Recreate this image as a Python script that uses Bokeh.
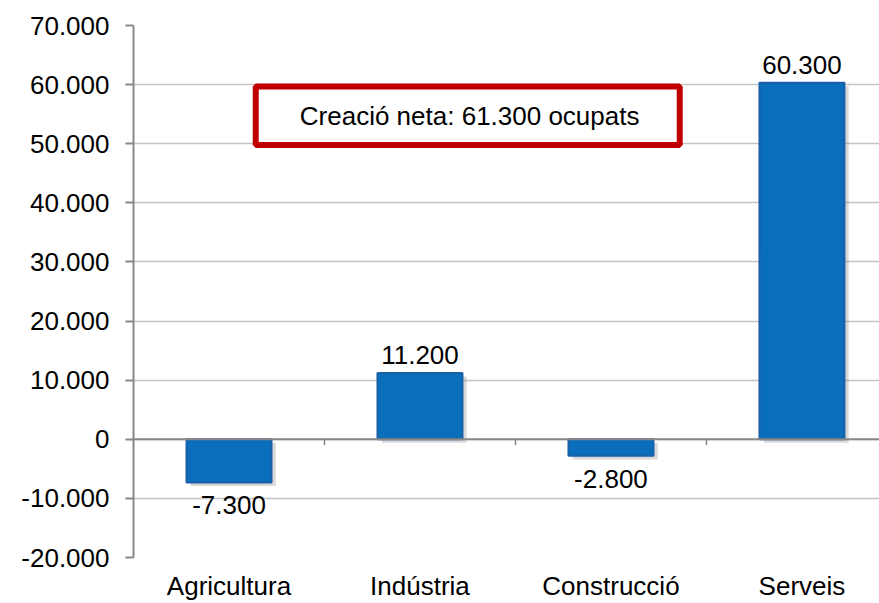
from bokeh.plotting import figure
from bokeh.models import ColumnDataSource, Range1d, FixedTicker, Span, BoxAnnotation, Label
from bokeh.embed import file_html
from bokeh.resources import INLINE
from bokeh.core.properties import value

# ---- data ----
categories = ["Agricultura", "Indústria", "Construcció", "Serveis"]
values = [-7300, 11200, -2800, 60300]
y_ticks = [-20000, -10000, 0, 10000, 20000, 30000, 40000, 50000, 60000, 70000]
net_total = 61300  # as printed in the chart


def fmt(v):
    return f"{v:,}".replace(",", ".")


annotation_text = f"Creació neta: {fmt(net_total)} ocupats"

FONT = "Liberation Sans"
BAR = "#0a6ebd"
BAR_EDGE = "#1b5fa6"

xs = [i + 0.5 for i in range(len(categories))]
tops = [max(v, 0) for v in values]
bottoms = [min(v, 0) for v in values]

src = ColumnDataSource(dict(x=xs, top=tops, bottom=bottoms))
shadow_dx, shadow_dy = 0.022, -600
shadow = ColumnDataSource(dict(x=[v + shadow_dx for v in xs],
                               top=[t + shadow_dy for t in tops],
                               bottom=[b + shadow_dy for b in bottoms]))

pos = ColumnDataSource(dict(x=[x for x, v in zip(xs, values) if v >= 0],
                            y=[v for v in values if v >= 0],
                            t=[fmt(v) for v in values if v >= 0]))
neg = ColumnDataSource(dict(x=[x for x, v in zip(xs, values) if v < 0],
                            y=[v for v in values if v < 0],
                            t=[fmt(v) for v in values if v < 0]))

p = figure(width=879, height=603, output_backend="svg", toolbar_location=None,
           x_range=Range1d(0, 3.906), y_range=Range1d(y_ticks[0], y_ticks[-1]),
           min_border_left=133, min_border_right=0, min_border_top=25, min_border_bottom=44)
p.outline_line_color = None
p.background_fill_color = "white"
p.border_fill_color = "white"

# grid
p.xgrid.grid_line_color = None
p.ygrid.ticker = FixedTicker(ticks=y_ticks)
p.ygrid.grid_line_color = "#c4c4c4"
p.ygrid.grid_line_width = 1.5

# y axis
p.yaxis.ticker = FixedTicker(ticks=y_ticks)
p.yaxis.major_label_overrides = {t: fmt(t) for t in y_ticks}
p.yaxis.axis_line_color = "#888888"
p.yaxis.axis_line_width = 2
p.yaxis.major_tick_line_color = "#888888"
p.yaxis.major_tick_line_width = 2
p.yaxis.major_tick_out = 8
p.yaxis.major_tick_in = 0
p.yaxis.minor_tick_line_color = None
p.yaxis.major_label_standoff = 16
p.yaxis.major_label_text_font = FONT
p.yaxis.major_label_text_font_size = "26px"
p.yaxis.major_label_text_color = "black"

# x axis (category labels only)
p.xaxis.ticker = FixedTicker(ticks=xs)
p.xaxis.major_label_overrides = {x: c for x, c in zip(xs, categories)}
p.xaxis.axis_line_color = None
p.xaxis.major_tick_line_color = None
p.xaxis.major_tick_out = 0
p.xaxis.major_tick_in = 0
p.xaxis.minor_tick_line_color = None
p.xaxis.major_label_standoff = 13
p.xaxis.major_label_text_font = FONT
p.xaxis.major_label_text_font_size = "26px"
p.xaxis.major_label_text_color = "black"

# zero line with category boundary ticks
p.add_layout(Span(location=0, dimension="width", line_color="#888888", line_width=2))
bounds = [i for i in range(1, len(categories))]
p.segment(x0=bounds, y0=[0] * len(bounds), x1=bounds, y1=[-1000] * len(bounds),
          line_color="#888888", line_width=1.5)

# bars
p.vbar(x="x", top="top", bottom="bottom", width=0.445, source=shadow,
       fill_color="#808080", fill_alpha=0.3, line_color=None)
p.vbar(x="x", top="top", bottom="bottom", width=0.445, source=src,
       fill_color=BAR, line_color=BAR_EDGE, line_width=2)

# value labels
p.text(x="x", y="y", text="t", source=pos, text_align="center", text_baseline="bottom",
       y_offset=-9, text_font=value(FONT), text_font_size="26px", text_color="black")
p.text(x="x", y="y", text="t", source=neg, text_align="center", text_baseline="top",
       y_offset=14, text_font=value(FONT), text_font_size="26px", text_color="black")

# annotation box
p.add_layout(BoxAnnotation(left=0.64, right=2.86, top=59700, bottom=49800,
                           fill_color="white", fill_alpha=1.0,
                           line_color="#c00000", line_width=6, line_alpha=1.0))
p.add_layout(Label(x=1.76, y=54750, text=annotation_text, text_align="center",
                   text_baseline="middle", text_font=FONT, text_font_size="26px",
                   text_color="black"))

open("out.html", "w").write(file_html(p, INLINE))
